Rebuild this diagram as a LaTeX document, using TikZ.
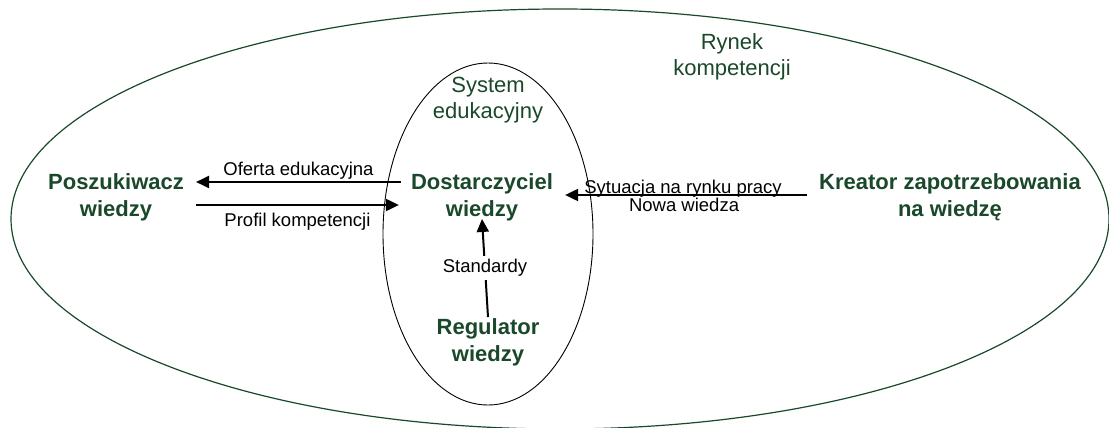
\documentclass[tikz,border=0pt]{standalone}
\usepackage{fontspec}
\setmainfont{Liberation Sans}
\usetikzlibrary{arrows.meta}
\definecolor{forest}{HTML}{1A482A}
\begin{document}
\begin{tikzpicture}[x=1pt,y=-1pt,
  actor/.style={font=\fontsize{22}{27}\selectfont\bfseries, text=forest, align=center, inner sep=0pt},
  area/.style={font=\fontsize{22}{26.5}\selectfont, text=forest, align=center, inner sep=0pt},
  flowlabel/.style={font=\fontsize{18.5}{22}\selectfont, inner sep=1pt},
  flow/.style={line width=2pt, -{Triangle[length=13pt,width=12pt]}}]
\useasboundingbox (0,0) rectangle (1109,428);
% market and education system
\draw[forest, line width=1.2pt] (560,219) ellipse [x radius=549, y radius=210];
\draw[black, line width=0.9pt] (488,234) ellipse [x radius=105, y radius=171];
\node[area] (market) at (732,57) {Rynek\\kompetencji};
\node[area] (edu) at (488,100) {System\\edukacyjny};
% actors
\node[actor] (seeker) at (116,197) {Poszukiwacz\\wiedzy};
\node[actor] (provider) at (482,197) {Dostarczyciel\\wiedzy};
\node[actor] (creator) at (950,197) {Kreator zapotrzebowania\\na wiedzę};
\node[actor] (regulator) at (488,342) {Regulator\\wiedzy};
% flows
\draw[flow] ([yshift=15pt,xshift=-10pt]provider.west) -- node[flowlabel, above=1pt] (offer) {Oferta edukacyjna} ([yshift=15pt,xshift=12pt]seeker.east);
\draw[flow] ([yshift=-8pt,xshift=12pt]seeker.east) -- node[flowlabel, below=6pt] (profile) {Profil kompetencji} ([yshift=-8pt,xshift=-12pt]provider.west);
\draw[flow] ([yshift=2pt,xshift=-12pt]creator.west) -- node[flowlabel, above=-4pt, xshift=-3pt] (market1) {Sytuacja na rynku pracy} node[flowlabel, below=1pt, xshift=-2pt] (market2) {Nowa wiedza} ([yshift=2pt,xshift=12pt]provider.east);
\draw[flow] ([yshift=1pt]regulator.north) -- node[flowlabel, fill=white, inner sep=3pt] (std) {Standardy} ([yshift=2pt]provider.south);
\end{tikzpicture}
\end{document}
